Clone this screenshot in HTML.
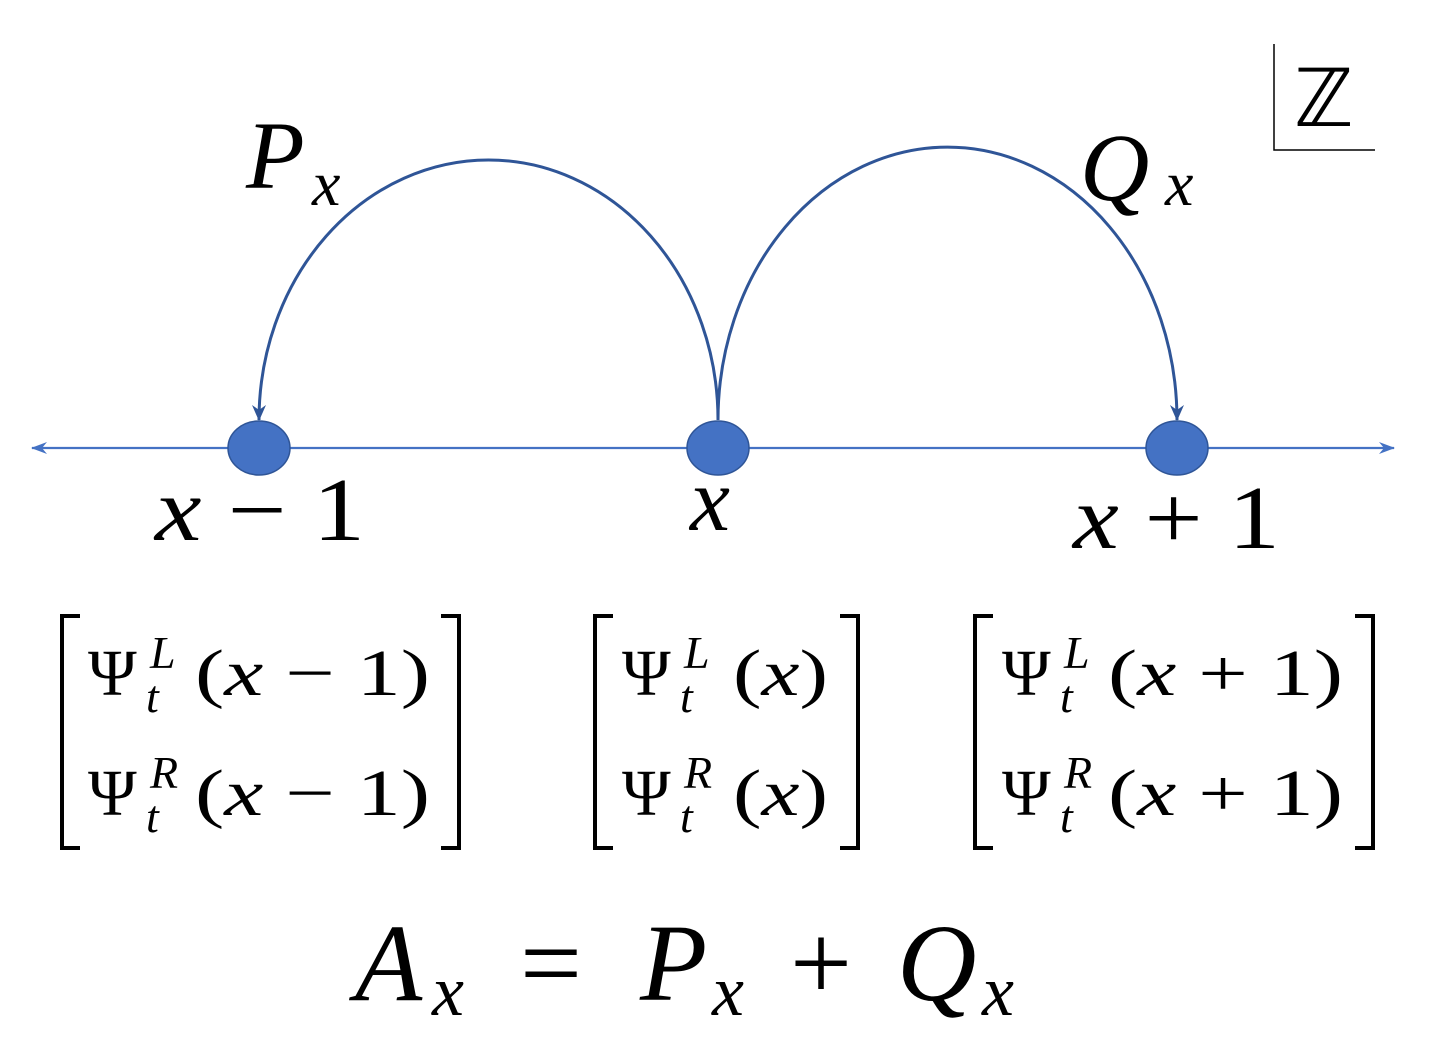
<!DOCTYPE html>
<html><head><meta charset="utf-8"><style>
html,body{margin:0;padding:0;background:#fff;}
svg{display:block}
text{font-family:"Liberation Serif",serif;fill:#000;}
.i{font-style:italic}
</style></head><body>
<svg width="1429" height="1058" viewBox="0 0 1429 1058" xmlns="http://www.w3.org/2000/svg">
<defs>
<marker id="ah" markerWidth="16" markerHeight="14" refX="15" refY="7" orient="auto" markerUnits="userSpaceOnUse" viewBox="0 0 16 14">
<path d="M0,0 L16,7 L0,14 L5,7 Z" fill="#2F5597"/></marker>
<marker id="ax" markerWidth="16" markerHeight="12" refX="15" refY="6" orient="auto" markerUnits="userSpaceOnUse" viewBox="0 0 16 12">
<path d="M0,0 L16,6 L0,12 L5,6 Z" fill="#4472C4"/></marker>
</defs>
<line x1="700" y1="448" x2="1394" y2="448" stroke="#4472C4" stroke-width="2.2" marker-end="url(#ax)"/>
<line x1="700" y1="448" x2="32" y2="448" stroke="#4472C4" stroke-width="2.2" marker-end="url(#ax)"/>
<path d="M718,420 A229.5,260 0 0 0 259,420" fill="none" stroke="#2F5597" stroke-width="3" marker-end="url(#ah)"/>
<path d="M718,420 A229.5,273 0 0 1 1177,420" fill="none" stroke="#2F5597" stroke-width="3" marker-end="url(#ah)"/>
<ellipse cx="259" cy="448" rx="31" ry="27" fill="#4472C4" stroke="#2F5597" stroke-width="1.5"/>
<ellipse cx="718" cy="448" rx="31" ry="27" fill="#4472C4" stroke="#2F5597" stroke-width="1.5"/>
<ellipse cx="1177" cy="448" rx="31" ry="27" fill="#4472C4" stroke="#2F5597" stroke-width="1.5"/>
<path d="M1274,44 L1274,150 L1375,150" fill="none" stroke="#000" stroke-width="1.5"/>
<text x="1294" y="126" font-size="80">ℤ</text>
<text x="246" y="188" font-size="96" class="i">P</text><text x="312" y="205" font-size="64" class="i">x</text>
<text x="1080" y="200" font-size="96" class="i">Q</text><text x="1165" y="205" font-size="64" class="i">x</text>
<text x="155" y="540" font-size="90" textLength="210" lengthAdjust="spacingAndGlyphs"><tspan class="i">x</tspan> − 1</text>
<text x="690" y="530" font-size="90" class="i">x</text>
<text x="1073" y="548" font-size="90" textLength="207" lengthAdjust="spacingAndGlyphs"><tspan class="i">x</tspan> + 1</text>
<g fill="none" stroke="#000" stroke-width="4">
<path d="M80,616 L62,616 L62,848 L80,848"/><path d="M441,616 L459,616 L459,848 L441,848"/>
<path d="M613,616 L595,616 L595,848 L613,848"/><path d="M840,616 L858,616 L858,848 L840,848"/>
<path d="M993,616 L975,616 L975,848 L993,848"/><path d="M1355,616 L1373,616 L1373,848 L1355,848"/>
</g>
<g font-size="66">
<text x="88" y="695">Ψ</text><text x="150" y="668" font-size="46" class="i">L</text><text x="146" y="712" font-size="46" class="i">t</text><text x="195" y="695" textLength="235" lengthAdjust="spacingAndGlyphs">(<tspan class="i">x</tspan> − 1)</text>
<text x="88" y="815">Ψ</text><text x="150" y="788" font-size="46" class="i">R</text><text x="146" y="832" font-size="46" class="i">t</text><text x="195" y="815" textLength="235" lengthAdjust="spacingAndGlyphs">(<tspan class="i">x</tspan> − 1)</text>
<text x="622" y="695">Ψ</text><text x="684" y="668" font-size="46" class="i">L</text><text x="680" y="712" font-size="46" class="i">t</text><text x="733" y="695" textLength="95" lengthAdjust="spacingAndGlyphs">(<tspan class="i">x</tspan>)</text>
<text x="622" y="815">Ψ</text><text x="684" y="788" font-size="46" class="i">R</text><text x="680" y="832" font-size="46" class="i">t</text><text x="733" y="815" textLength="95" lengthAdjust="spacingAndGlyphs">(<tspan class="i">x</tspan>)</text>
<text x="1002" y="695">Ψ</text><text x="1064" y="668" font-size="46" class="i">L</text><text x="1060" y="712" font-size="46" class="i">t</text><text x="1108" y="695" textLength="235" lengthAdjust="spacingAndGlyphs">(<tspan class="i">x</tspan> + 1)</text>
<text x="1002" y="815">Ψ</text><text x="1064" y="788" font-size="46" class="i">R</text><text x="1060" y="832" font-size="46" class="i">t</text><text x="1108" y="815" textLength="235" lengthAdjust="spacingAndGlyphs">(<tspan class="i">x</tspan> + 1)</text>
</g>
<text x="355" y="1000" font-size="110" class="i">A</text><text x="432" y="1015" font-size="72" class="i">x</text>
<text x="520" y="1000" font-size="110">=</text>
<text x="640" y="1000" font-size="110" class="i">P</text><text x="712" y="1015" font-size="72" class="i">x</text>
<text x="790" y="1000" font-size="110">+</text>
<text x="897" y="1000" font-size="110" class="i">Q</text><text x="982" y="1015" font-size="72" class="i">x</text>
</svg>
</body></html>
